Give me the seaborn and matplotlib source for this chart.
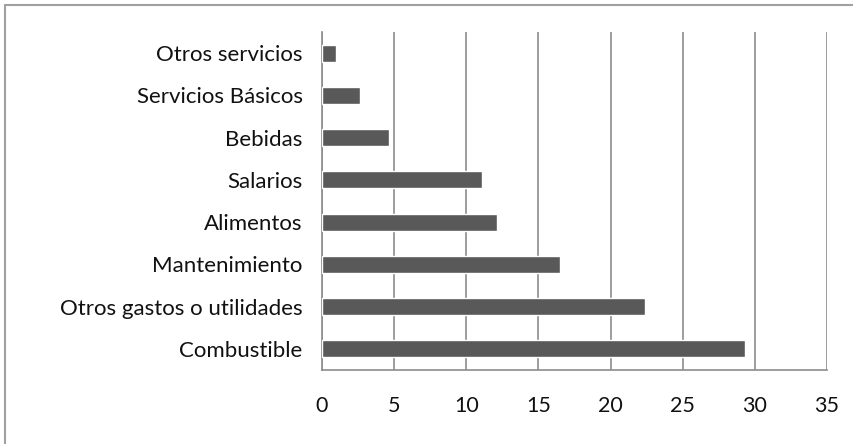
import matplotlib
matplotlib.use("Agg")
import matplotlib.pyplot as plt
from matplotlib.lines import Line2D
import seaborn as sns
import pandas as pd

categories = [
    "Otros servicios",
    "Servicios Básicos",
    "Bebidas",
    "Salarios",
    "Alimentos",
    "Mantenimiento",
    "Otros gastos o utilidades",
    "Combustible",
]
values = [1.0, 2.65, 4.65, 11.1, 12.1, 16.5, 22.4, 29.35]
x_ticks = [0, 5, 10, 15, 20, 25, 30, 35]

sns.set_style("white")
plt.rcParams["font.family"] = ["Lato", "DejaVu Sans"]

df = pd.DataFrame({"categoria": categories, "valor": values})

fig = plt.figure(figsize=(8.54, 4.44), dpi=100)
ax = fig.add_axes([322 / 854, 1 - 370 / 444, 505 / 854, 338 / 444])

sns.barplot(data=df, x="valor", y="categoria", order=categories,
            color="#595959", saturation=1, width=0.4, ax=ax, zorder=3)

ax.set_xlim(0, 35)
ax.set_ylim(len(categories) - 0.5, -0.5)
ax.set_xticks(x_ticks)
ax.set_xlabel("")
ax.set_ylabel("")

grid_color = "#8c8c8c"
ax.xaxis.grid(True, color=grid_color, linewidth=1.2, zorder=0)
ax.set_axisbelow(True)

for side in ("top", "right"):
    ax.spines[side].set_visible(False)
for side in ("left", "bottom"):
    ax.spines[side].set_color(grid_color)
    ax.spines[side].set_linewidth(1.2)

# category ticks sit between the bars, labels centred on the bars
ax.set_yticks([i - 0.5 for i in range(len(categories) + 1)], minor=True)
ax.tick_params(axis="y", which="minor", length=8, width=1.2, color=grid_color, direction="out")
ax.tick_params(axis="y", which="major", length=0, pad=14, labelsize=16, labelcolor="#111111")
ax.tick_params(axis="x", which="major", length=8, width=1.2, color=grid_color,
               direction="out", pad=11, labelsize=15.5, labelcolor="#111111")

# outer frame of the chart area
fig.add_artist(Line2D([5 / 854, 5 / 854], [0, 1 - 5 / 444], transform=fig.transFigure,
                      color="#a0a0a0", linewidth=1.5))
fig.add_artist(Line2D([5 / 854, 1], [1 - 5 / 444, 1 - 5 / 444], transform=fig.transFigure,
                      color="#a0a0a0", linewidth=1.5))

fig.savefig("out.png", dpi=100)
